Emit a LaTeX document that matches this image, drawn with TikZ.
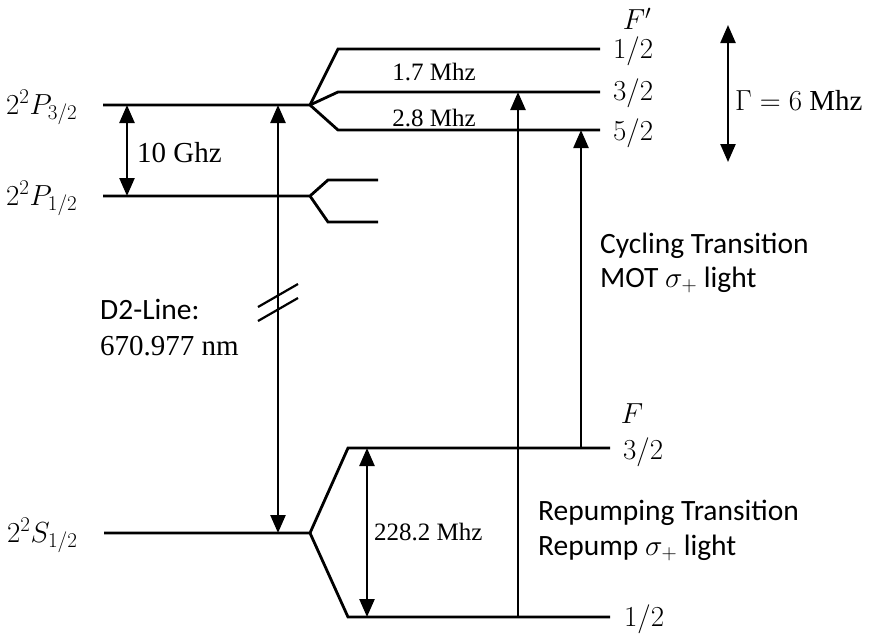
\RequirePackage{fix-cm}
\documentclass[tikz,border=0pt]{standalone}
\usepackage{fontspec}
\setmainfont{Liberation Serif}
\newfontfamily\sansf{Carlito}
\usetikzlibrary{arrows.meta}
\newcommand{\sscr}[1]{\mbox{\fontsize{21}{24}\selectfont$#1$}}
\begin{document}
\begin{tikzpicture}[x=1pt,y=-1pt,
  level/.style={line width=2.8pt,line cap=butt,line join=miter},
  trans/.style={line width=2.4pt,-{Triangle[width=15pt,length=18pt]}},
  both/.style={line width=2.4pt,{Triangle[width=15pt,length=18pt]}-{Triangle[width=15pt,length=18pt]}},
  big/.style={font=\fontsize{29}{34}\selectfont,inner sep=0pt},
  mth/.style={font=\fontsize{29}{34}\selectfont,inner sep=0pt},
  small/.style={font=\fontsize{25}{30}\selectfont,inner sep=0pt},
  sans/.style={font=\sansf\fontsize{29.5}{34}\selectfont,inner sep=0pt},
  brk/.style={line width=2.2pt}]
\useasboundingbox (0,0) rectangle (870,633);
% coordinates of levels
\coordinate (p3a) at (103,105); \coordinate (p3s) at (310,105);
\coordinate (p1a) at (103,196); \coordinate (p1s) at (310,196);
\coordinate (sa) at (104,533);  \coordinate (ss) at (310,533);
\coordinate (f1k) at (338,49);  \coordinate (f1e) at (600,49);
\coordinate (f3k) at (338,92);  \coordinate (f3e) at (600,92);
\coordinate (f5k) at (338,130); \coordinate (f5e) at (600,130);
\coordinate (q1k) at (328,180); \coordinate (q1e) at (378,180);
\coordinate (q2k) at (328,222); \coordinate (q2e) at (378,222);
\coordinate (g3k) at (348,448); \coordinate (g3e) at (610,448);
\coordinate (g1k) at (348,617); \coordinate (g1e) at (610,617);
% levels
\draw[level] (p3a) -- (p3s) -- (f1k) -- (f1e);
\draw[level] (p3s) -- (f3k) -- (f3e);
\draw[level] (p3s) -- (f5k) -- (f5e);
\draw[level] (p1a) -- (p1s) -- (q1k) -- (q1e);
\draw[level] (p1s) -- (q2k) -- (q2e);
\draw[level] (sa) -- (ss) -- (g3k) -- (g3e);
\draw[level] (ss) -- (g1k) -- (g1e);
% arrow end points
\coordinate (a10t) at (127,105); \coordinate (a10b) at (127,196);
\coordinate (d2t) at (278,105); \coordinate (d2b) at (278,533);
\coordinate (rpb) at (518,617); \coordinate (rpt) at (518,92);
\coordinate (cyb) at (581,448); \coordinate (cyt) at (581,130);
\coordinate (hft) at (367,448); \coordinate (hfb) at (367,617);
\coordinate (gt) at (728,25); \coordinate (gb) at (728,162);
\draw[both] (a10t) -- (a10b);
\draw[both] (d2t) -- (d2b);
\draw[trans] (rpb) -- (rpt);
\draw[trans] (cyb) -- (cyt);
\draw[both] (hft) -- (hfb);
\draw[both] (gt) -- (gb);
% break marks
\coordinate (b1a) at (258,307); \coordinate (b1b) at (298,284);
\coordinate (b2a) at (258,321); \coordinate (b2b) at (298,298);
\draw[brk] (b1a) -- (b1b);
\draw[brk] (b2a) -- (b2b);
% labels
\node[mth,anchor=base west] (lp3) at (6,114) {$2^{\sscr{2}}P_{\sscr{3/2}}$};
\node[mth,anchor=base west] (lp1) at (6,205) {$2^{\sscr{2}}P_{\sscr{1/2}}$};
\node[mth,anchor=base west] (ls) at (7,542) {$2^{\sscr{2}}S_{\sscr{1/2}}$};
\node[big,anchor=west] (l10) at (137,153) {10 Ghz};
\node[sans,anchor=base west] (ld2) at (100,319) {D2-Line:};
\node[big,anchor=base west] (lnm) at (100,355) {670.977 nm};
\node[mth] (lfp) at (637,19) {$F'$};
\node[mth,anchor=west] (lf1) at (613,51) {$1/2$};
\node[mth,anchor=west] (lf3) at (613,93) {$3/2$};
\node[mth,anchor=west] (lf5) at (613,133) {$5/2$};
\node[small] (l17) at (434,72) {1.7 Mhz};
\node[small] (l28) at (434,118) {2.8 Mhz};
\node[mth,anchor=west] (lg) at (735,100) {$\Gamma = 6$ Mhz};
\node[sans,anchor=base west] (lc1) at (600,253) {Cycling Transition};
\node[sans,anchor=base west] (lc2) at (600,287) {MOT $\sigma_{\sscr{+}}$ light};
\node[mth] (lF) at (632,414) {$F$};
\node[mth,anchor=west] (lg3) at (623,452) {$3/2$};
\node[mth,anchor=west] (lg1) at (624,619) {$1/2$};
\node[small,anchor=west] (lhf) at (374,532) {228.2 Mhz};
\node[sans,anchor=base west] (lr1) at (538,520) {Repumping Transition};
\node[sans,anchor=base west] (lr2) at (538,555) {Repump $\sigma_{\sscr{+}}$ light};
\end{tikzpicture}
\end{document}
